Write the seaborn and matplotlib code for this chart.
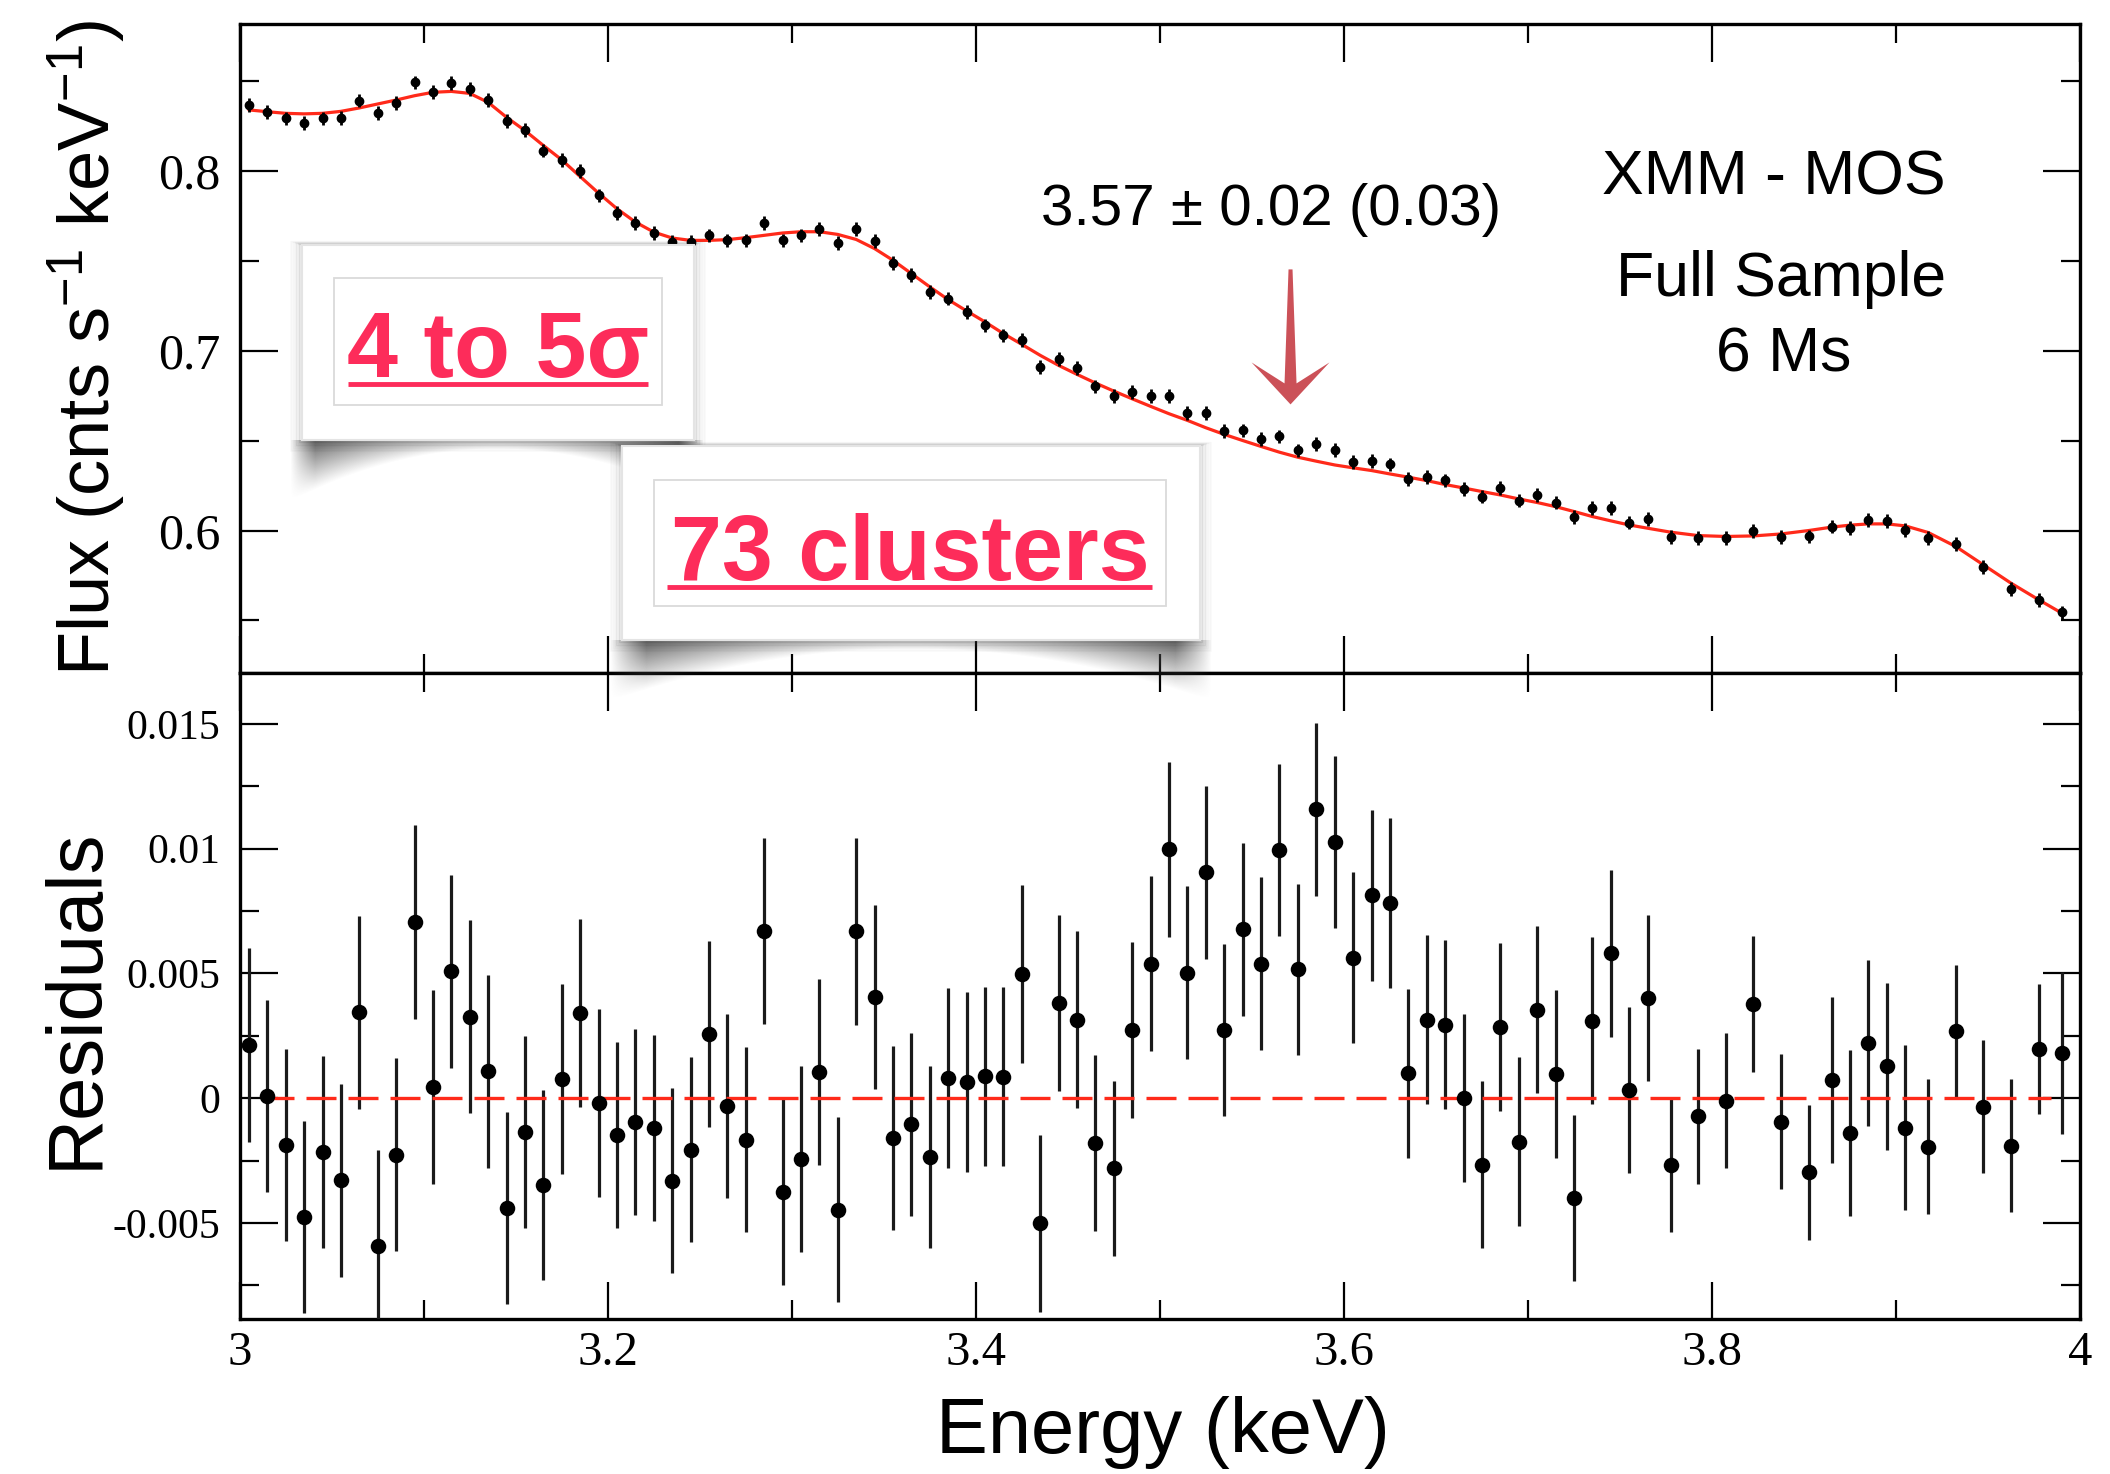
import numpy as np
import pandas as pd
import matplotlib
matplotlib.use("Agg")
import matplotlib.pyplot as plt
import matplotlib.ticker as mticker
from matplotlib.patches import Rectangle, Polygon
import seaborn as sns

# ---- values ----
energy = [
    3.005, 3.015, 3.025, 3.035, 3.045, 3.055, 3.065, 3.075, 3.085, 3.095,
    3.105, 3.115, 3.125, 3.135, 3.145, 3.155, 3.165, 3.175, 3.185, 3.195,
    3.205, 3.215, 3.225, 3.235, 3.245, 3.255, 3.265, 3.275, 3.285, 3.295,
    3.305, 3.315, 3.325, 3.335, 3.345, 3.355, 3.365, 3.375, 3.385, 3.395,
    3.405, 3.415, 3.425, 3.435, 3.445, 3.455, 3.465, 3.475, 3.485, 3.495,
    3.505, 3.515, 3.525, 3.535, 3.545, 3.555, 3.565, 3.575, 3.585, 3.595,
    3.605, 3.615, 3.625, 3.635, 3.645, 3.655, 3.665, 3.675, 3.685, 3.695,
    3.705, 3.715, 3.725, 3.735, 3.745, 3.755, 3.765, 3.7775, 3.7925, 3.8075,
    3.8225, 3.8375, 3.8525, 3.865, 3.875, 3.885, 3.895, 3.905, 3.9175, 3.9325,
    3.9475, 3.9625, 3.9775, 3.99,
]

flux = [
    0.8369, 0.8328, 0.8294, 0.8267, 0.8294, 0.8296, 0.8393, 0.8322, 0.8378, 0.8494,
    0.8439, 0.8489, 0.8457, 0.8396, 0.8278, 0.8231, 0.8115, 0.8063, 0.8000, 0.7865,
    0.7767, 0.7711, 0.7656, 0.7606, 0.7606, 0.7643, 0.7615, 0.7615, 0.7711, 0.7615,
    0.7643, 0.7680, 0.7600, 0.7680, 0.7612, 0.7489, 0.7424, 0.7328, 0.7291, 0.7216,
    0.7142, 0.7086, 0.7062, 0.6910, 0.6953, 0.6906, 0.6802, 0.6747, 0.6770, 0.6747,
    0.6747, 0.6655, 0.6655, 0.6553, 0.6557, 0.6511, 0.6524, 0.6446, 0.6483, 0.6450,
    0.6381, 0.6386, 0.6368, 0.6288, 0.6297, 0.6279, 0.6232, 0.6189, 0.6235, 0.6167,
    0.6198, 0.6156, 0.6074, 0.6124, 0.6124, 0.6044, 0.6063, 0.5963, 0.5957, 0.5957,
    0.5998, 0.5963, 0.5967, 0.6022, 0.6013, 0.6059, 0.6054, 0.6004, 0.5957, 0.5926,
    0.5796, 0.5674, 0.5615, 0.5544,
]
flux_err = 0.0038

flux_model = [
    0.8341, 0.8331, 0.8322, 0.8319, 0.8322, 0.8333, 0.8352, 0.8374, 0.8396, 0.8420,
    0.8439, 0.8444, 0.8433, 0.8383, 0.8300, 0.8226, 0.8143, 0.8063, 0.7970, 0.7878,
    0.7791, 0.7717, 0.7661, 0.7628, 0.7615, 0.7615, 0.7619, 0.7630, 0.7643, 0.7656,
    0.7663, 0.7663, 0.7648, 0.7620, 0.7569, 0.7504, 0.7430, 0.7356, 0.7285, 0.7222,
    0.7161, 0.7096, 0.7036, 0.6975, 0.6919, 0.6869, 0.6821, 0.6776, 0.6733, 0.6691,
    0.6650, 0.6613, 0.6572, 0.6535, 0.6501, 0.6468, 0.6436, 0.6408, 0.6386, 0.6365,
    0.6349, 0.6334, 0.6315, 0.6297, 0.6278, 0.6256, 0.6237, 0.6217, 0.6198, 0.6176,
    0.6156, 0.6133, 0.6106, 0.6078, 0.6054, 0.6031, 0.6013, 0.5991, 0.5972, 0.5967,
    0.5970, 0.5981, 0.6000, 0.6019, 0.6030, 0.6037, 0.6037, 0.6026, 0.5989, 0.5911,
    0.5809, 0.5707, 0.5615, 0.5541,
]

resid = [
    0.00213, 0.00008, -0.00187, -0.00476, -0.00216, -0.00329, 0.00344, -0.00592, -0.00227, 0.00705,
    0.00044, 0.00508, 0.00326, 0.00108, -0.00440, -0.00137, -0.00348, 0.00076, 0.00342, -0.00018,
    -0.00147, -0.00094, -0.00118, -0.00331, -0.00206, 0.00256, -0.00032, -0.00166, 0.00669, -0.00376,
    -0.00244, 0.00105, -0.00448, 0.00668, 0.00406, -0.00158, -0.00105, -0.00236, 0.00079, 0.00065,
    0.00087, 0.00086, 0.00498, -0.00502, 0.00382, 0.00315, -0.00179, -0.00282, 0.00273, 0.00539,
    0.00998, 0.00503, 0.00905, 0.00273, 0.00676, 0.00539, 0.00995, 0.00516, 0.01157, 0.01027,
    0.00563, 0.00813, 0.00781, 0.00100, 0.00315, 0.00294, 0.00000, -0.00266, 0.00285, -0.00174,
    0.00355, 0.00097, -0.00400, 0.00310, 0.00581, 0.00031, 0.00402, -0.00268, -0.00073, -0.00010,
    0.00377, -0.00094, -0.00298, 0.00073, -0.00139, 0.00221, 0.00127, -0.00118, -0.00194, 0.00269,
    -0.00034, -0.00190, 0.00197, 0.00181,
]

resid_err = [
    0.00387, 0.00385, 0.00385, 0.00385, 0.00385, 0.00386, 0.00387, 0.00385, 0.00386, 0.00389,
    0.00390, 0.00387, 0.00387, 0.00387, 0.00385, 0.00385, 0.00381, 0.00382, 0.00377, 0.00377,
    0.00373, 0.00373, 0.00373, 0.00371, 0.00371, 0.00372, 0.00370, 0.00371, 0.00373, 0.00373,
    0.00371, 0.00373, 0.00371, 0.00373, 0.00369, 0.00369, 0.00367, 0.00364, 0.00361, 0.00361,
    0.00360, 0.00358, 0.00357, 0.00355, 0.00353, 0.00354, 0.00352, 0.00351, 0.00351, 0.00351,
    0.00351, 0.00347, 0.00348, 0.00345, 0.00346, 0.00347, 0.00345, 0.00343, 0.00345, 0.00344,
    0.00343, 0.00343, 0.00341, 0.00339, 0.00340, 0.00339, 0.00337, 0.00336, 0.00337, 0.00339,
    0.00336, 0.00335, 0.00334, 0.00334, 0.00335, 0.00333, 0.00333, 0.00270, 0.00270, 0.00270,
    0.00272, 0.00269, 0.00270, 0.00333, 0.00333, 0.00334, 0.00335, 0.00332, 0.00272, 0.00265,
    0.00268, 0.00266, 0.00262, 0.00323,
]

zero_x = [3.013, 3.984]
zero_y = [0.0, 0.0]

x_ticks = [3.0, 3.2, 3.4, 3.6, 3.8, 4.0]
flux_ticks = [0.6, 0.7, 0.8]
resid_ticks = [-0.005, 0.0, 0.005, 0.01, 0.015]

line_text = "3.57 ± 0.02 (0.03)"
line_energy = 3.571
inst_text = "XMM - MOS"
sample_text = "Full Sample"
exposure_text = "6 Ms"
callout_texts = ["4 to 5σ", "73 clusters"]

RED = "#ff2a1a"
PINK = "#fd2c5a"
ARROW = "#c9474f"

sns.set_theme(style="ticks")
plt.rcParams["font.family"] = ["Liberation Sans", "DejaVu Sans"]
plt.rcParams["mathtext.fontset"] = "custom"
plt.rcParams["mathtext.rm"] = "Liberation Sans"
plt.rcParams["mathtext.it"] = "Liberation Sans:italic"
plt.rcParams["text.color"] = "black"
plt.rcParams["axes.labelcolor"] = "black"

df = pd.DataFrame({"energy": energy, "flux": flux, "model": flux_model,
                   "resid": resid, "err": resid_err})

W, H = 2110, 1474
fig = plt.figure(figsize=(W / 100, H / 100), dpi=100)
fig.patch.set_facecolor("white")
ax1 = fig.add_axes([0.1136, 0.5434, 0.8722, 0.4403])
ax2 = fig.add_axes([0.1136, 0.1052, 0.8722, 0.4382])

# top: spectrum + model
sns.lineplot(data=df, x="energy", y="model", ax=ax1, color=RED, lw=2.3, zorder=2)
ax1.errorbar(df.energy, df.flux, yerr=flux_err, fmt="o", ms=6, color="black",
             elinewidth=2.0, capsize=0, zorder=3)

# bottom: residuals
ax2.errorbar(df.energy, df.resid, yerr=df.err, fmt="none", ecolor="#1a1a1a",
             elinewidth=2.3, capsize=0, zorder=3)
sns.lineplot(x=zero_x, y=zero_y, ax=ax2, color=RED, lw=2.4,
             linestyle=(0, (9, 3.6)), zorder=3.5)
sns.scatterplot(data=df, x="energy", y="resid", ax=ax2, color="black", s=125,
                linewidth=0, zorder=4)

fmt = mticker.FuncFormatter(lambda v, p: f"{v:g}")
for ax in (ax1, ax2):
    ax.set_xlim(3.0, 4.0)
    ax.xaxis.set_major_locator(mticker.FixedLocator(x_ticks))
    ax.xaxis.set_minor_locator(mticker.MultipleLocator(0.1))
    ax.xaxis.set_major_formatter(fmt)
    ax.yaxis.set_major_formatter(fmt)
    ax.tick_params(which="both", direction="in", top=True, right=True,
                   width=1.6, color="black", labelfontfamily="Liberation Serif",
                   labelcolor="black")
    ax.tick_params(which="major", length=27)
    ax.tick_params(which="minor", length=14)
    ax.tick_params(axis="y", pad=14)
    ax.tick_params(axis="x", pad=9, labelsize=35)
    ax.set_xlabel("")
    ax.set_ylabel("")
    for s in ax.spines.values():
        s.set_linewidth(2.4)
        s.set_color("black")

ax1.set_ylim(0.5207, 0.8819)
ax1.yaxis.set_major_locator(mticker.FixedLocator(flux_ticks))
ax1.yaxis.set_minor_locator(mticker.MultipleLocator(0.05))
ax1.tick_params(axis="y", labelsize=36)
ax1.tick_params(axis="x", labelbottom=False)

ax2.set_ylim(-0.00885, 0.01704)
ax2.yaxis.set_major_locator(mticker.FixedLocator(resid_ticks))
ax2.yaxis.set_minor_locator(mticker.MultipleLocator(0.0025))
ax2.tick_params(axis="y", labelsize=30)

# annotations in the spectrum panel
ax1.text(3.5602, 0.7701, line_text, fontsize=42, ha="center", va="baseline", color="black")
ax1.text(3.8336, 0.7872, inst_text, fontsize=45, ha="center", va="baseline", color="black")
ax1.text(3.8374, 0.7304, sample_text, fontsize=45, ha="center", va="baseline", color="black")
ax1.text(3.8391, 0.6886, exposure_text, fontsize=45, ha="center", va="baseline", color="black")

# axis labels
fig.text(110 / W, 1 - 348 / H, r"Flux (cnts s$^{-1}$ keV$^{-1}$)", rotation=90,
         rotation_mode="anchor", ha="center", va="baseline", fontsize=52, color="black")
fig.text(97 / W, 1 - 998 / H, "Residuals", rotation=90, rotation_mode="anchor",
         ha="center", va="baseline", fontsize=56, color="black")
fig.text(1163 / W, 1 - 1453 / H, "Energy (keV)", ha="center", va="baseline",
         fontsize=56, color="black")

# overlay in pixel coordinates for the callout boxes and the arrow
ov = fig.add_axes([0, 0, 1, 1], zorder=10)
ov.axis("off")
ov.set_autoscale_on(False)
ov.set_xlim(0, W)
ov.set_ylim(H, 0)


def curl_shadow(x0, x1, y0, depth, strength=1.0):
    w, h = int(x1 - x0), int(depth)
    u = np.linspace(0, 1, w)[None, :]
    v = np.linspace(0, 1, h)[:, None]
    reach = 0.14 + 0.86 * (2 * u - 1) ** 2
    a = np.clip(1 - v / reach, 0, 1) ** 1.1
    a = a * (0.35 + 0.65 * (2 * u - 1) ** 2)
    a = a * np.clip(np.minimum(u, 1 - u) / 0.06, 0, 1) * strength
    img = np.zeros((h, w, 4))
    img[..., :3] = 0.3
    img[..., 3] = np.clip(a, 0, 0.85)
    ov.imshow(img, extent=(x0, x1, y0 + depth, y0), interpolation="bilinear",
              aspect="auto")


def callout(outer, inner, text, cx, base, ul):
    x0, y0, x1, y1 = outer
    for k, al in enumerate([0.08, 0.06, 0.05, 0.04, 0.03, 0.02, 0.015]):
        p = 1.6 * (k + 1)
        ov.add_patch(Rectangle((x0 - p, y0 - p * 0.3), x1 - x0 + 2 * p, y1 - y0 + 1.3 * p,
                               fill=False, ec="black", lw=1.6, alpha=al))
    ov.add_patch(Rectangle((x0, y0), x1 - x0, y1 - y0, fc="white", ec="#e4e4e4", lw=1.5))
    ix0, iy0, ix1, iy1 = inner
    ov.add_patch(Rectangle((ix0, iy0), ix1 - ix0, iy1 - iy0, fill=False,
                           ec="#dadada", lw=1.3))
    ov.text(cx, base, text, color=PINK, fontsize=66, fontweight="bold",
            ha="center", va="baseline")
    ov.plot([ul[0], ul[1]], [ul[2], ul[2]], color=PINK, lw=3.5, solid_capstyle="butt")


curl_shadow(290, 704, 440, 62)
callout((302, 245, 694, 440), (334, 278, 662, 405), callout_texts[0], 498, 377, (348, 648, 384))
curl_shadow(610, 1212, 640, 62)
callout((622, 446, 1200, 640), (654, 480, 1166, 606), callout_texts[1], 910, 580, (667, 1152, 587))

# arrow pointing at the line energy
tip = ax1.transData.transform((line_energy, 0.6702))
tx, ty = tip[0], H - tip[1]
ov.add_patch(Polygon([(tx, ty), (tx + 39, ty - 42), (tx + 6, ty - 21), (tx + 2, ty - 135),
                      (tx - 2, ty - 135), (tx - 6, ty - 21), (tx - 39, ty - 42)],
                     closed=True, fc=ARROW, ec="none", alpha=0.95))

fig.savefig("out.png", dpi=100)
